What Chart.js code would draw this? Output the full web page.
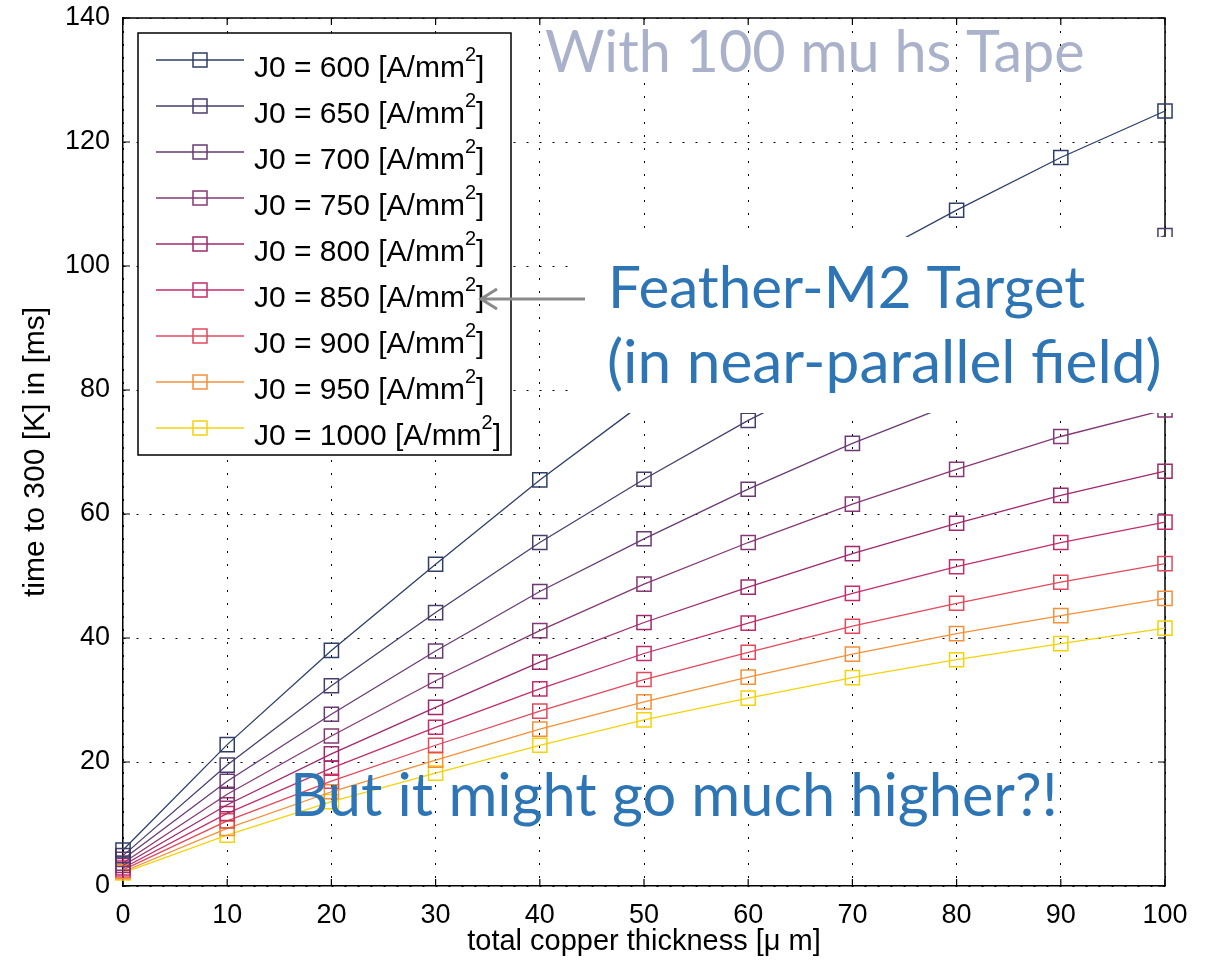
<!DOCTYPE html>
<html>
<head>
<meta charset="utf-8">
<title>time to 300 K vs copper thickness</title>
<script src="https://cdn.jsdelivr.net/npm/chart.js@4.4.1/dist/chart.umd.min.js"></script>
<style>
  html, body { margin: 0; padding: 0; background: #fff; }
  #quenchCanvas { display: block; }
</style>
</head>
<body>
<canvas id="quenchCanvas" width="1214" height="963"></canvas>
<script>
// total copper thickness [um]
const thickness = [0, 10, 20, 30, 40, 50, 60, 70, 80, 90, 100];

// time to 300 K [ms], one list per current density
const j600  = [5.8, 22.8, 38.0, 51.9, 65.5, 78.0, 89.5, 100.0, 109.0, 117.5, 125.0];
const j650  = [4.9, 19.5, 32.3, 44.1, 55.4, 65.6, 75.1, 83.5, 91.5, 98.5, 104.9];
const j700  = [4.3, 16.9, 27.7, 37.9, 47.5, 56.0, 64.0, 71.4, 78.0, 84.5, 90.5];
const j750  = [3.7, 14.8, 24.2, 33.1, 41.2, 48.7, 55.4, 61.6, 67.2, 72.5, 76.8];
const j800  = [3.3, 13.1, 21.3, 28.8, 36.1, 42.5, 48.2, 53.6, 58.5, 63.0, 66.9];
const j850  = [2.9, 11.7, 19.0, 25.6, 31.8, 37.5, 42.4, 47.2, 51.5, 55.4, 58.7];
const j900  = [2.6, 10.5, 16.9, 22.7, 28.2, 33.3, 37.7, 41.9, 45.6, 49.0, 52.0];
const j950  = [2.3, 9.3, 15.2, 20.3, 25.3, 29.7, 33.7, 37.4, 40.7, 43.6, 46.4];
const j1000 = [2.1, 8.2, 13.6, 18.2, 22.7, 26.8, 30.3, 33.6, 36.5, 39.1, 41.6];

const currentDensities = [600, 650, 700, 750, 800, 850, 900, 950, 1000];
const seriesValues = [j600, j650, j700, j750, j800, j850, j900, j950, j1000];
const seriesColors = [
    "#2d3e68", "#4a3d6e", "#693a74", "#853873", "#a0286c",
    "#c22d6c", "#e2495b", "#f39038", "#f4d20c",
];

const AXIS_FONT = "'Liberation Sans', Arial, sans-serif";
const NOTE_FONT = "Lato, 'Open Sans', sans-serif";

Chart.defaults.font.family = AXIS_FONT;
Chart.defaults.color = "#000";

const datasets = currentDensities.map((j, i) => ({
    label: "J0 = " + j + " [A/mm2]",
    data: thickness.map((t, k) => ({ x: t, y: seriesValues[i][k] })),
    borderColor: seriesColors[i],
    borderWidth: 1.3,
    pointStyle: "rect",
    pointRadius: 10,
    pointBorderWidth: 1.5,
    pointBorderColor: seriesColors[i],
    pointBackgroundColor: "rgba(0,0,0,0)",
    tension: 0,
    clip: false,
}));

// box outline on top/right plus inward tick marks on all four sides
const frameLines = {
    id: "frameLines",
    beforeDatasetsDraw(chart) {
        const { ctx, chartArea: a, scales } = chart;
        const len = 7;
        ctx.save();
        ctx.strokeStyle = "#000";
        ctx.lineWidth = 1.5;
        ctx.beginPath();
        ctx.moveTo(a.left, a.top);
        ctx.lineTo(a.right, a.top);
        ctx.lineTo(a.right, a.bottom);
        ctx.stroke();
        ctx.lineWidth = 1.2;
        ctx.beginPath();
        scales.x.ticks.forEach((t) => {
            const px = scales.x.getPixelForValue(t.value);
            ctx.moveTo(px, a.bottom); ctx.lineTo(px, a.bottom - len);
            ctx.moveTo(px, a.top); ctx.lineTo(px, a.top + len);
        });
        scales.y.ticks.forEach((t) => {
            const py = scales.y.getPixelForValue(t.value);
            ctx.moveTo(a.left, py); ctx.lineTo(a.left + len, py);
            ctx.moveTo(a.right, py); ctx.lineTo(a.right - len, py);
        });
        ctx.stroke();
        ctx.restore();
    },
};

function fitFontSize(ctx, text, family, width) {
    ctx.font = "100px " + family;
    return 100 * width / ctx.measureText(text).width;
}

function drawNote(ctx, text, left, baseline, width, color) {
    const size = fitFontSize(ctx, text, NOTE_FONT, width);
    ctx.font = size.toFixed(1) + "px " + NOTE_FONT;
    ctx.fillStyle = color;
    ctx.textAlign = "left";
    ctx.textBaseline = "alphabetic";
    ctx.fillText(text, left, baseline);
}

// legend, white label box, notes and the arrow
const overlays = {
    id: "overlays",
    afterDatasetsDraw(chart) {
        const { ctx } = chart;
        ctx.save();

        // white panel behind the target label
        ctx.fillStyle = "#fff";
        ctx.fillRect(576, 237, 1214 - 576, 176);

        // legend
        const box = { left: 138, top: 33, right: 511, bottom: 455 };
        ctx.fillStyle = "#fff";
        ctx.fillRect(box.left, box.top, box.right - box.left, box.bottom - box.top);
        ctx.strokeStyle = "#000";
        ctx.lineWidth = 1.5;
        ctx.strokeRect(box.left, box.top, box.right - box.left, box.bottom - box.top);

        chart.data.datasets.forEach((ds, i) => {
            const y = 60 + i * 46;
            ctx.strokeStyle = ds.borderColor;
            ctx.lineWidth = 1.3;
            ctx.beginPath();
            ctx.moveTo(156, y);
            ctx.lineTo(244, y);
            ctx.stroke();
            ctx.lineWidth = 1.5;
            ctx.strokeRect(193, y - 7, 14, 14);

            const main = "J0 = " + currentDensities[i] + " [A/mm";
            ctx.fillStyle = "#000";
            ctx.textAlign = "left";
            ctx.textBaseline = "alphabetic";
            ctx.font = "30px " + AXIS_FONT;
            ctx.fillText(main, 254, y + 17);
            let x = 254 + ctx.measureText(main).width;
            ctx.font = "20px " + AXIS_FONT;
            ctx.fillText("2", x, y + 1);
            x += ctx.measureText("2").width;
            ctx.font = "30px " + AXIS_FONT;
            ctx.fillText("]", x, y + 17);
        });

        // notes
        drawNote(ctx, "With 100 mu hs Tape", 545, 72, 540, "#aab2cb");
        drawNote(ctx, "Feather-M2 Target", 608, 308, 477, "#2e75b6");
        drawNote(ctx, "(in near-parallel field)", 607, 383, 555, "#2e75b6");
        drawNote(ctx, "But it might go much higher?!", 290, 816, 768, "#2e75b6");

        // arrow pointing at the J0 = 850 entry
        ctx.strokeStyle = "#8a8a8a";
        ctx.lineWidth = 3;
        ctx.beginPath();
        ctx.moveTo(585, 299);
        ctx.lineTo(481, 299);
        ctx.moveTo(497, 289);
        ctx.lineTo(481, 299);
        ctx.lineTo(497, 309);
        ctx.stroke();

        ctx.restore();
    },
};

const gridStyle = {
    color: "#000",
    lineWidth: 1,
    drawTicks: false,
};

new Chart(document.getElementById("quenchCanvas").getContext("2d"), {
    type: "line",
    data: { datasets },
    options: {
        responsive: false,
        animation: false,
        layout: { padding: { top: 18, right: 49, left: 0, bottom: 0 } },
        plugins: {
            legend: { display: false },
            tooltip: { enabled: false },
        },
        scales: {
            x: {
                type: "linear",
                min: 0,
                max: 100,
                ticks: { stepSize: 10, padding: 13, font: { size: 27 } },
                grid: { ...gridStyle },
                border: { color: "#000", width: 1.5, dash: [2, 11] },
                title: {
                    display: true,
                    text: "total copper thickness [\u03bc m]",
                    font: { size: 29 },
                    padding: { top: 0, bottom: 4 },
                },
                afterFit: (s) => { s.height = 77; },
            },
            y: {
                min: 0,
                max: 140,
                ticks: { stepSize: 20, padding: 13, font: { size: 27 } },
                grid: { ...gridStyle },
                border: { color: "#000", width: 1.5, dash: [2, 11] },
                title: {
                    display: true,
                    text: "time to 300 [K] in [ms]",
                    font: { size: 30 },
                    padding: { top: 18, bottom: 0 },
                },
                afterFit: (s) => {
                    s.width = 123;
                    s.paddingTop = 0;
                    s.paddingBottom = 0;
                },
            },
        },
    },
    plugins: [frameLines, overlays],
});
</script>
</body>
</html>
